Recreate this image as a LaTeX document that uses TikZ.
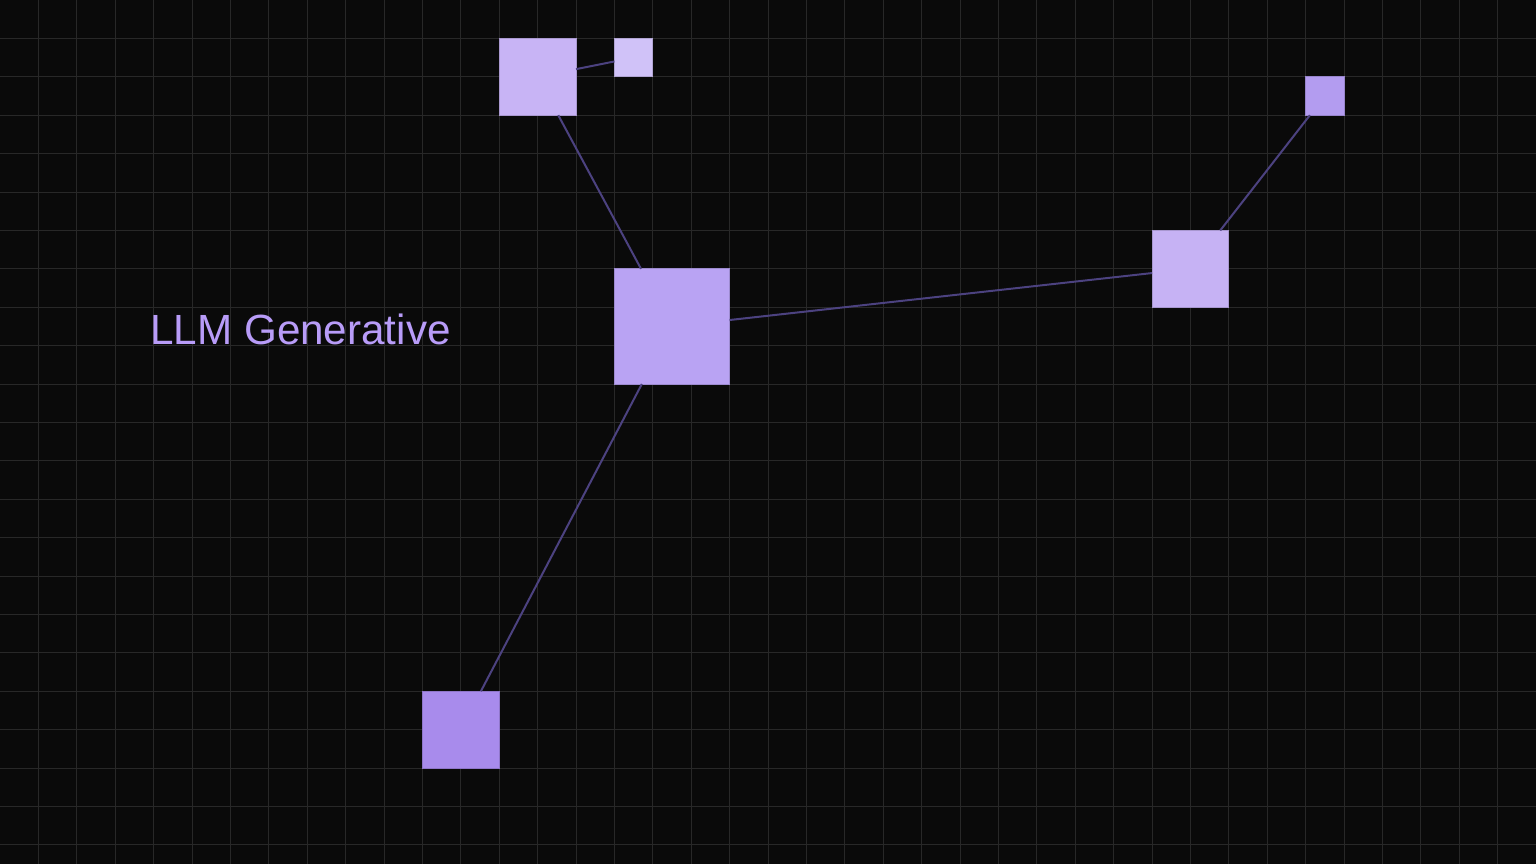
\documentclass[tikz,border=0pt]{standalone}
\usepackage{fontspec}
\setmainfont{Liberation Sans}
\definecolor{bgc}{HTML}{0A0A0A}
\definecolor{gridc}{HTML}{282828}
\definecolor{edgec}{HTML}{4C4280}
\definecolor{txtc}{HTML}{B89CF8}
\definecolor{sqA}{HTML}{C8B4F5}
\definecolor{sqB}{HTML}{D0C2F8}
\definecolor{sqC}{HTML}{B9A3F3}
\definecolor{sqD}{HTML}{C6B2F4}
\definecolor{sqE}{HTML}{B39CF0}
\definecolor{sqF}{HTML}{A88BEC}
\begin{document}
\begin{tikzpicture}[x=0.5pt,y=-0.5pt,
  sq/.style={rectangle, inner sep=0pt, outer sep=0pt, draw=#1!85!black, line width=0.4pt, fill=#1},
  s1/.style={minimum size=19.2pt},
  s2/.style={minimum size=38.4pt},
  s3/.style={minimum size=57.6pt},
  link/.style={draw=edgec, line width=1pt},
  lbl/.style={inner sep=0pt, anchor=base west, text=txtc, font=\fontsize{21.1pt}{24pt}\selectfont}]
\fill[bgc] (0,0) rectangle (1536,864);
\useasboundingbox (0,0) rectangle (1536,864);
\foreach \i in {1,...,39} {\draw[gridc, line width=0.5pt] (\i*38.4,0) -- (\i*38.4,864);}
\foreach \j in {1,...,22} {\draw[gridc, line width=0.5pt] (0,\j*38.4) -- (1536,\j*38.4);}
\node[sq=sqA, s2] (tl) at (537.6,76.8) {};
\node[sq=sqB, s1] (ts) at (633.6,57.6) {};
\node[sq=sqC, s3] (c) at (672,326.4) {};
\node[sq=sqD, s2] (r) at (1190.4,268.8) {};
\node[sq=sqE, s1] (tr) at (1324.8,96) {};
\node[sq=sqF, s2] (b) at (460.8,729.6) {};
\draw[link] (tl) -- (ts);
\draw[link] (tl) -- (c);
\draw[link] (c) -- (r);
\draw[link] (r) -- (tr);
\draw[link] (c) -- (b);
\node[lbl] (t) at (150,344) {LLM Generative};
\end{tikzpicture}
\end{document}
